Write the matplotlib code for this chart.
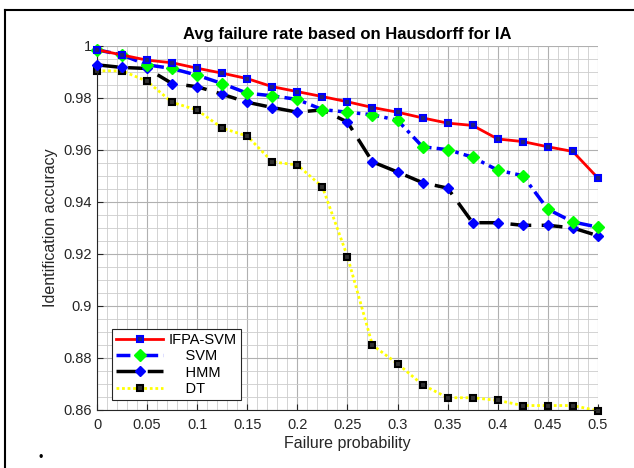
import numpy as np
import matplotlib
matplotlib.use('Agg')
import matplotlib.pyplot as plt
from matplotlib.ticker import MultipleLocator
from matplotlib.lines import Line2D

plt.rcParams['font.family'] = ['Liberation Sans', 'DejaVu Sans']

# failure probability
x = [0, 0.025, 0.05, 0.075, 0.1, 0.125, 0.15, 0.175, 0.2, 0.225, 0.25,
     0.275, 0.3, 0.325, 0.35, 0.375, 0.4, 0.425, 0.45, 0.475, 0.5]

ifpa_svm = [0.9985, 0.9965, 0.9945, 0.9935, 0.9914, 0.9895, 0.9874, 0.9843, 0.9824, 0.9805, 0.9785,
            0.9763, 0.9745, 0.9723, 0.9703, 0.9694, 0.9642, 0.9632, 0.9612, 0.9594, 0.9492]
svm = [0.9985, 0.9965, 0.9927, 0.9913, 0.9887, 0.9855, 0.9818, 0.9808, 0.9794, 0.9755, 0.9745,
       0.9735, 0.9714, 0.9612, 0.9601, 0.9572, 0.9522, 0.9501, 0.9372, 0.9323, 0.9303]
hmm = [0.9927, 0.9917, 0.9913, 0.9855, 0.9843, 0.9814, 0.9783, 0.9763, 0.9745, 0.9754, 0.9707,
       0.9554, 0.9515, 0.9474, 0.9453, 0.9320, 0.9320, 0.9310, 0.9310, 0.9300, 0.9270]
dt = [0.9904, 0.9904, 0.9864, 0.9783, 0.9753, 0.9684, 0.9653, 0.9554, 0.9542, 0.9458, 0.9190,
      0.8849, 0.8778, 0.8697, 0.8647, 0.8647, 0.8637, 0.8617, 0.8617, 0.8617, 0.8597]

labels = ['IFPA-SVM', '    SVM', '    HMM', '    DT']
xtick_labels = ['0', '0.05', '0.1', '0.15', '0.2', '0.25', '0.3', '0.35', '0.4', '0.45', '0.5']
ytick_labels = ['0.86', '0.88', '0.9', '0.92', '0.94', '0.96', '0.98', '1']

fig = plt.figure(figsize=(6.34, 4.68), dpi=100)
ax = fig.add_axes([0.153, 0.124, 0.790, 0.778])

# figure frame (left and top edges visible)
fig.add_artist(Line2D([0.008, 0.008], [0, 0.979], color='black', lw=1.5, transform=fig.transFigure))
fig.add_artist(Line2D([0.008, 1.0], [0.979, 0.979], color='black', lw=1.5, transform=fig.transFigure))
fig.text(0.06, 0.015, '\u2022', fontsize=9)

ax.plot(x, ifpa_svm, color='red', lw=2, marker='s', ms=5, mfc='#202080', mec='blue', mew=1.5,
        label=labels[0], zorder=5, clip_on=False)
ax.plot(x, svm, color='blue', lw=2.5, ls=(0, (4, 1.5, 1, 1.5)), marker='D', ms=6, mfc='#00ff00',
        mec='#00ff00', label=labels[1], zorder=4, clip_on=False)
ax.plot(x, hmm, color='black', lw=2.5, ls=(0, (6, 3)), marker='D', ms=5, mfc='blue', mec='blue',
        label=labels[2], zorder=3, clip_on=False)
ax.plot(x, dt, color='#ffff00', lw=2, ls=(0, (1, 1)), marker='s', ms=5, mfc='#303030', mec='black',
        mew=1.5, label=labels[3], zorder=2, clip_on=False)

ax.set_xlim(0, 0.5)
ax.set_ylim(0.86, 1.0)
ax.xaxis.set_minor_locator(MultipleLocator(0.01))
ax.yaxis.set_minor_locator(MultipleLocator(0.005))
ax.set_xticks(np.arange(0, 0.501, 0.05))
ax.set_yticks(np.arange(0.86, 1.0001, 0.02))
ax.set_xticklabels(xtick_labels)
ax.set_yticklabels(ytick_labels)

ax.grid(which='major', color='#b0b0b0', lw=0.8)
ax.grid(which='minor', color='#cccccc', lw=0.6)
ax.set_axisbelow(True)
ax.tick_params(which='major', direction='in', length=4, labelsize=10.5, colors='#262626')
ax.tick_params(axis='x', pad=6)
ax.tick_params(which='minor', length=0)
ax.spines['top'].set_visible(False)
ax.spines['right'].set_visible(False)
ax.spines['left'].set_color('#262626')
ax.spines['bottom'].set_color('#262626')

ax.set_title('Avg failure rate based on Hausdorff for IA', fontsize=12, fontweight='bold', pad=5)
ax.set_xlabel('Failure probability', fontsize=11.5, color='#262626', labelpad=3)
ax.set_ylabel('Identification accuracy', fontsize=11.5, color='#262626')

leg = ax.legend(loc='lower left', bbox_to_anchor=(0.03, 0.027), borderaxespad=0, numpoints=1,
                fontsize=10.5, fancybox=False, edgecolor='#262626', framealpha=1, handlelength=3.2,
                labelspacing=0.15, borderpad=0.3, handletextpad=0.4)
leg.get_frame().set_linewidth(0.8)

fig.savefig('out.png', dpi=100)
